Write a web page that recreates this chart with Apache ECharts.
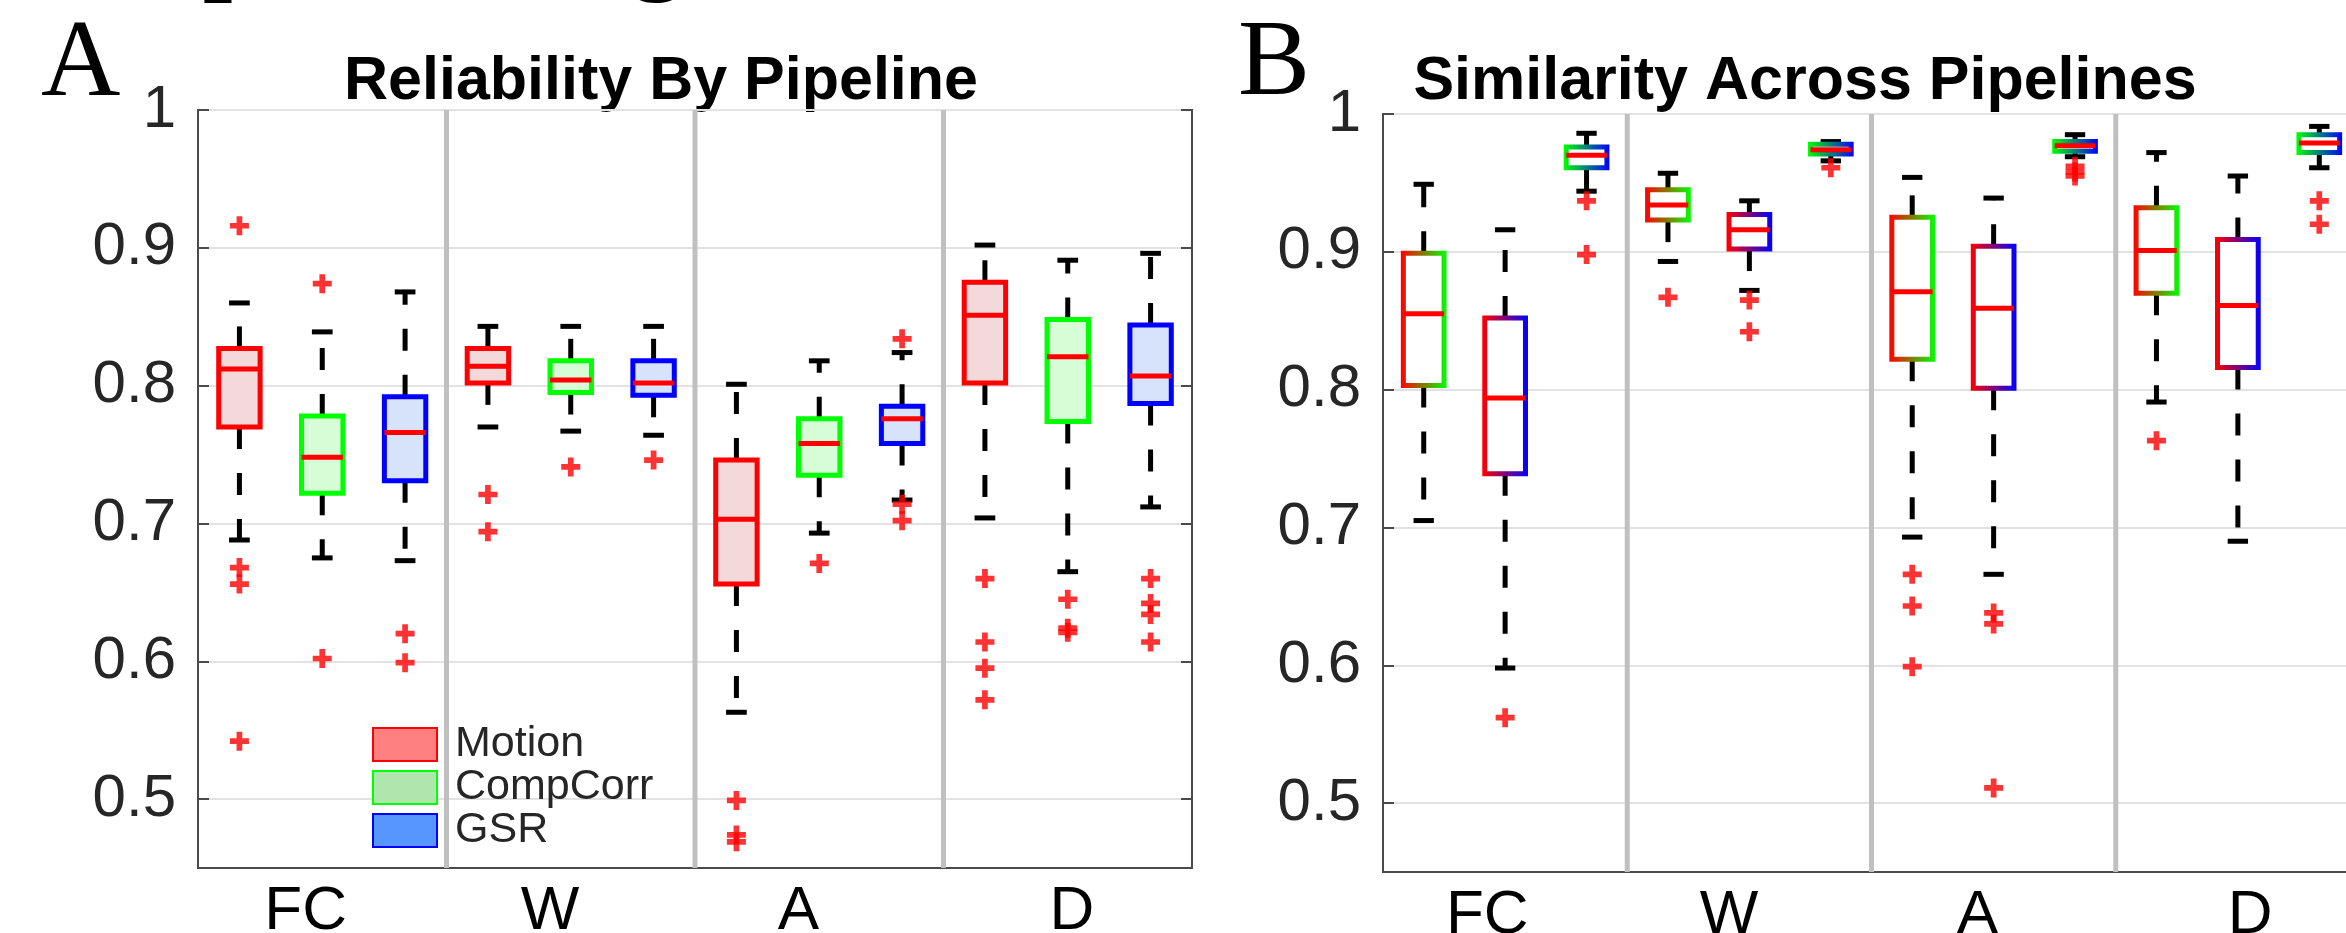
<!DOCTYPE html>
<html><head><meta charset="utf-8">
<script src="https://cdn.jsdelivr.net/npm/echarts@6/dist/echarts.min.js"></script>
<style>html,body{margin:0;padding:0;background:#fff;overflow:hidden}#c{width:2346px;height:933px}</style>
</head><body><div id="c"></div>
<script>
// ---------- data ----------
const groups = ['FC', 'W', 'A', 'D'];
const pipelines = ['Motion', 'CompCorr', 'GSR'];
const pairs = ['Motion–CompCorr', 'Motion–GSR', 'CompCorr–GSR'];
const yTicks = [0.5, 0.6, 0.7, 0.8, 0.9, 1];
const separators = [3.5, 6.5, 9.5];

// each row: [lower whisker, Q1, median, Q3, upper whisker] for FC, W, A, D
const relMotion = [
  [0.688, 0.770, 0.812, 0.827, 0.860],
  [0.770, 0.802, 0.814, 0.827, 0.843],
  [0.563, 0.656, 0.703, 0.746, 0.801],
  [0.704, 0.802, 0.851, 0.875, 0.902]
];
const relMotionOut = [[0.916, 0.668, 0.656, 0.542], [0.721, 0.694], [0.499, 0.474, 0.469], [0.660, 0.614, 0.595, 0.572]];
const relCompCorr = [
  [0.675, 0.722, 0.748, 0.778, 0.839],
  [0.767, 0.795, 0.804, 0.818, 0.843],
  [0.693, 0.735, 0.758, 0.776, 0.818],
  [0.665, 0.774, 0.821, 0.848, 0.891]
];
const relCompCorrOut = [[0.874, 0.602], [0.741], [0.671], [0.645, 0.624, 0.621]];
const relGSR = [
  [0.673, 0.731, 0.766, 0.792, 0.868],
  [0.764, 0.793, 0.802, 0.818, 0.843],
  [0.717, 0.758, 0.776, 0.785, 0.824],
  [0.712, 0.787, 0.807, 0.844, 0.896]
];
const relGSROut = [[0.620, 0.599], [0.746], [0.834, 0.714, 0.702], [0.660, 0.642, 0.634, 0.614]];

const simMC = [
  [0.705, 0.803, 0.855, 0.899, 0.949],
  [0.893, 0.923, 0.934, 0.945, 0.957],
  [0.693, 0.822, 0.871, 0.925, 0.954],
  [0.791, 0.870, 0.901, 0.932, 0.972]
];
const simMCOut = [[], [0.867], [0.666, 0.643, 0.599], [0.763]];
const simMG = [
  [0.598, 0.739, 0.794, 0.852, 0.916],
  [0.872, 0.902, 0.916, 0.927, 0.937],
  [0.666, 0.801, 0.859, 0.904, 0.939],
  [0.690, 0.816, 0.861, 0.909, 0.955]
];
const simMGOut = [[0.562], [0.865, 0.842], [0.638, 0.630, 0.511], []];
const simCG = [
  [0.944, 0.961, 0.970, 0.976, 0.986],
  [0.966, 0.971, 0.974, 0.978, 0.980],
  [0.969, 0.973, 0.977, 0.980, 0.985],
  [0.961, 0.972, 0.979, 0.985, 0.991]
];
const simCGOut = [[0.937, 0.898], [0.961], [0.962, 0.958, 0.955], [0.937, 0.920]];

// ---------- layout ----------
const labelPosA = [1.8, 4.75, 7.75, 11.05];
const labelPosB = [1.78, 4.75, 7.8, 11.15];

// ---------- styles ----------
const RED = '#ff0000', GREEN = '#00ff00', BLUE = '#0000ff';
const FONT = '"Liberation Sans", Arial, sans-serif';
const PLUS = 'path://M7,0H13V7H20V13H13V20H7V13H0V7H7Z';

function grad(c1, c2) {
  return new echarts.graphic.LinearGradient(0, 0, 1, 0, [{offset: 0, color: c1}, {offset: 1, color: c2}]);
}

function boxRenderer(fill, strokeFn) {
  return function (params, api) {
    const x = api.value(0);
    const lo = api.value(1), q1 = api.value(2), md = api.value(3), q3 = api.value(4), hi = api.value(5);
    const hw = 0.25, cw = 0.125;
    const tl = api.coord([x - hw, q3]);
    const br = api.coord([x + hw, q1]);
    const xc = api.coord([x, md])[0];
    const ym = api.coord([x, md])[1];
    const ylo = api.coord([x, lo])[1];
    const yhi = api.coord([x, hi])[1];
    const cl = api.coord([x - cw, lo])[0];
    const cr = api.coord([x + cw, lo])[0];
    const dash = {stroke: '#000', lineWidth: 5, lineDash: [22, 24]};
    const solid = {stroke: '#000', lineWidth: 5};
    return {
      type: 'group',
      children: [
        {type: 'line', shape: {x1: xc, y1: tl[1], x2: xc, y2: yhi}, style: dash},
        {type: 'line', shape: {x1: xc, y1: br[1], x2: xc, y2: ylo}, style: dash},
        {type: 'line', shape: {x1: cl, y1: yhi, x2: cr, y2: yhi}, style: solid},
        {type: 'line', shape: {x1: cl, y1: ylo, x2: cr, y2: ylo}, style: solid},
        {type: 'rect', shape: {x: tl[0], y: tl[1], width: br[0] - tl[0], height: br[1] - tl[1]},
          style: {fill: fill, stroke: strokeFn(), lineWidth: 5}},
        {type: 'line', shape: {x1: tl[0], y1: ym, x2: br[0], y2: ym}, style: {stroke: RED, lineWidth: 5}}
      ]
    };
  };
}

function boxData(arr, s) {
  return arr.map((d, g) => [g * 3 + s + 1].concat(d));
}
function outData(arrs) {
  const out = [];
  arrs.forEach((perGroup, s) => perGroup.forEach((vals, g) => vals.forEach(v => out.push([g * 3 + s + 1, v]))));
  return out;
}

function sepSeries(xi, yi) {
  return {
    type: 'custom', coordinateSystem: 'cartesian2d', xAxisIndex: xi, yAxisIndex: yi, silent: true, z: 1,
    data: separators.map(v => [v, 0.7]),
    encode: {x: 0, y: 1},
    renderItem: function (params, api) {
      const cs = params.coordSys;
      const x = api.coord([api.value(0), api.value(1)])[0];
      return {type: 'line', shape: {x1: x, y1: cs.y, x2: x, y2: cs.y + cs.height},
        style: {stroke: '#c0c0c0', lineWidth: 5}};
    }
  };
}

function yAxisCfg(idx, pos, labels) {
  return {
    gridIndex: idx, type: 'value', min: 0.45, max: 1, position: pos,
    axisLine: {show: true, lineStyle: {color: '#4a4a4a', width: 2}},
    axisTick: {show: true, inside: true, length: 11, customValues: yTicks, lineStyle: {color: '#4a4a4a', width: 2}},
    axisLabel: {show: labels, customValues: yTicks, margin: 22, fontSize: 60, fontFamily: FONT, color: '#262626',
      formatter: v => (v === 1 ? '1' : v.toFixed(1))},
    splitLine: {show: pos === 'left', lineStyle: {color: '#e2e2e2', width: 2}}
  };
}
function xAxisCfg(idx, pos) {
  return {
    gridIndex: idx, type: 'value', min: 0.5, max: 12.5,
    axisLine: {show: true, lineStyle: {color: '#4a4a4a', width: 2}},
    axisTick: {show: false},
    splitLine: {show: false},
    axisLabel: {customValues: pos, margin: 13, fontSize: 62, fontFamily: FONT, color: '#000',
      formatter: v => groups[pos.indexOf(v)]}
  };
}

const relFill = ['#f3d9d9', '#d6fdd6', '#d6e3fb'];
const relEdge = [RED, GREEN, BLUE];
const relArr = [relMotion, relCompCorr, relGSR];
const simArr = [simMC, simMG, simCG];
const simEdge = [[RED, GREEN], [RED, BLUE], [GREEN, BLUE]];
const legendFill = ['#ff8080', '#aee6ae', '#5597ff'];

const series = [sepSeries(0, 0), sepSeries(1, 2)];
pipelines.forEach((name, s) => {
  series.push({
    name: name, type: 'custom', coordinateSystem: 'cartesian2d', xAxisIndex: 0, yAxisIndex: 0, z: 3,
    itemStyle: {color: legendFill[s], borderColor: relEdge[s], borderWidth: 2},
    data: boxData(relArr[s], s),
    encode: {x: 0, y: [1, 2, 3, 4, 5]},
    renderItem: boxRenderer(relFill[s], () => relEdge[s])
  });
});
pairs.forEach((name, s) => {
  series.push({
    name: name, type: 'custom', coordinateSystem: 'cartesian2d', xAxisIndex: 1, yAxisIndex: 2, z: 3,
    data: boxData(simArr[s], s),
    encode: {x: 0, y: [1, 2, 3, 4, 5]},
    renderItem: boxRenderer('#ffffff', () => grad(simEdge[s][0], simEdge[s][1]))
  });
});
series.push({
  name: 'Reliability outliers', type: 'scatter', xAxisIndex: 0, yAxisIndex: 0, z: 4,
  symbol: PLUS, symbolSize: 19, itemStyle: {color: RED},
  data: outData([relMotionOut, relCompCorrOut, relGSROut])
});
series.push({
  name: 'Similarity outliers', type: 'scatter', xAxisIndex: 1, yAxisIndex: 2, z: 4,
  symbol: PLUS, symbolSize: 19, itemStyle: {color: RED},
  data: outData([simMCOut, simMGOut, simCGOut])
});

const option = {
  animation: false,
  backgroundColor: '#ffffff',
  grid: [
    {left: 198, top: 110, width: 994, height: 758, outerBoundsMode: 'none', containLabel: false,
      show: true, borderColor: '#4a4a4a', borderWidth: 2, backgroundColor: 'transparent'},
    {left: 1383, top: 114, width: 977, height: 758, outerBoundsMode: 'none', containLabel: false,
      show: true, borderColor: '#4a4a4a', borderWidth: 2, backgroundColor: 'transparent'}
  ],
  xAxis: [xAxisCfg(0, labelPosA), xAxisCfg(1, labelPosB)],
  yAxis: [yAxisCfg(0, 'left', true), yAxisCfg(0, 'right', false), yAxisCfg(1, 'left', true)],
  legend: {
    left: 372, top: 723, orient: 'vertical', padding: 0, itemGap: 0,
    itemWidth: 64, itemHeight: 33, icon: 'rect', selectedMode: false,
    textStyle: {fontSize: 43, fontFamily: FONT, color: '#262626', padding: [0, 0, 0, 13]},
    data: pipelines.map((n, s) => ({name: n, itemStyle: {color: legendFill[s], borderColor: relEdge[s], borderWidth: 2}}))
  },
  graphic: [
    {type: 'text', x: 661, y: 82, style: {text: 'Reliability By Pipeline', font: 'bold 61px ' + FONT, fill: '#000', align: 'center', verticalAlign: 'middle'}},
    {type: 'text', x: 1805, y: 82, style: {text: 'Similarity Across Pipelines', font: 'bold 61px ' + FONT, fill: '#000', align: 'center', verticalAlign: 'middle'}},
    {type: 'text', x: 41, y: 66, style: {text: 'A', font: '110px "Liberation Serif", serif', fill: '#000', align: 'left', verticalAlign: 'middle'}},
    {type: 'text', x: 1238, y: 66, style: {text: 'B', font: '108px "Liberation Serif", serif', fill: '#000', align: 'left', verticalAlign: 'middle'}},
    {type: 'text', x: 203, y: -47, style: {text: 'p', font: 'bold 105px "Liberation Serif", serif', fill: '#000', align: 'left', verticalAlign: 'middle'}},
    {type: 'text', x: 631, y: -47, style: {text: 'g', font: 'bold 105px "Liberation Serif", serif', fill: '#000', align: 'left', verticalAlign: 'middle'}}
  ],
  series: series
};

const chart = echarts.init(document.getElementById('c'), null, {renderer: 'canvas'});
chart.setOption(option);
</script>
</body></html>
